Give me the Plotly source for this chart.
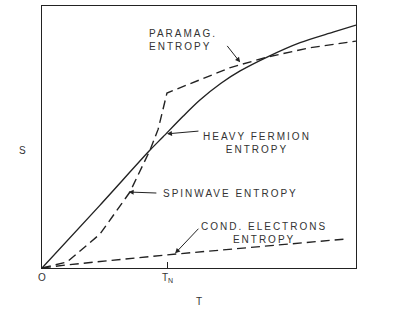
import plotly.graph_objects as go

# Heavy fermion entropy (solid)
hf_T = [0.0, 0.185, 0.344, 0.385, 0.45, 0.503, 0.57, 0.631, 0.717, 0.822, 0.927, 1.0]
hf_S = [0.0, 0.24, 0.45, 0.50, 0.58, 0.641, 0.705, 0.752, 0.805, 0.860, 0.900, 0.927]

# Spinwave entropy (dashed, below T_N) joined to paramagnetic entropy (above T_N)
sw_T = [0.0, 0.08, 0.185, 0.28, 0.344, 0.37, 0.398]
sw_S = [0.0, 0.023, 0.13, 0.29, 0.45, 0.53, 0.668]
pm_T = [0.398, 0.6, 0.717, 0.85, 1.0]
pm_S = [0.668, 0.765, 0.805, 0.84, 0.866]

# Conduction electrons entropy (dashed)
ce_T = [0.0, 0.08, 0.397, 0.96]
ce_S = [0.0, 0.012, 0.05, 0.11]

tick_vals = [0.0, 0.4]
tick_text = ["O", "T<sub>N</sub>"]

ink = "#222222"
txt = "#333333"
font = dict(family="Liberation Sans, Arial, sans-serif", size=10, color=txt)

fig = go.Figure()
fig.add_trace(go.Scatter(x=hf_T, y=hf_S, mode="lines",
                         line=dict(color=ink, width=1.4, shape="spline", smoothing=0.8)))
fig.add_trace(go.Scatter(x=sw_T + pm_T[1:], y=sw_S + pm_S[1:], mode="lines",
                         line=dict(color=ink, width=1.4, dash="9px,5px")))
fig.add_trace(go.Scatter(x=ce_T, y=ce_S, mode="lines",
                         line=dict(color=ink, width=1.4, dash="9px,5px")))

def sp(s):
    return '<span style="letter-spacing:2px">' + s + '</span>'

labels = [
    (sp("PARAMAG.") + "<br>" + sp("ENTROPY"), 0.45, 0.87, "left"),
    (sp("HEAVY FERMION") + "<br>" + sp("ENTROPY"), 0.685, 0.477, "center"),
    (sp("SPINWAVE ENTROPY"), 0.60, 0.286, "center"),
    (sp("COND. ELECTRONS") + "<br>" + sp("ENTROPY"), 0.706, 0.135, "center"),
]
for t, x, y, al in labels:
    fig.add_annotation(x=x, y=y, text=t, showarrow=False, align=al, font=font)

arrows = [
    (0.585, 0.855, 0.631, 0.785),
    (0.503, 0.523, 0.398, 0.512),
    (0.369, 0.286, 0.276, 0.29),
    (0.503, 0.156, 0.424, 0.056),
]
for ax, ay, x, y in arrows:
    fig.add_annotation(x=x, y=y, ax=ax, ay=ay, axref="x", ayref="y", text=" ",
                       showarrow=True, arrowhead=2, arrowsize=1.0, arrowwidth=1,
                       arrowcolor=ink, font=dict(size=1))

fig.add_annotation(x=-0.045, y=0.45, xref="paper", yref="paper", text="S",
                   showarrow=False, font=font, xanchor="right")

fig.update_xaxes(range=[0, 1], showgrid=False, zeroline=False, showline=True,
                 linecolor=ink, linewidth=1.2, mirror=True,
                 tickvals=tick_vals, ticktext=tick_text, ticks="inside",
                 ticklen=6, tickcolor=ink, tickwidth=1, tickfont=font,
                 title=dict(text="T", font=font, standoff=14))
fig.update_yaxes(range=[0, 1], showgrid=False, zeroline=False, showline=True,
                 linecolor=ink, linewidth=1.2, mirror=True, showticklabels=False,
                 ticks="")
fig.update_layout(width=415, height=316, showlegend=False,
                  margin=dict(l=42, r=59, t=6, b=48),
                  plot_bgcolor="white", paper_bgcolor="white")
fig.write_html("out.html", config={"displayModeBar": False},
               post_script="document.body.style.margin='0';")
